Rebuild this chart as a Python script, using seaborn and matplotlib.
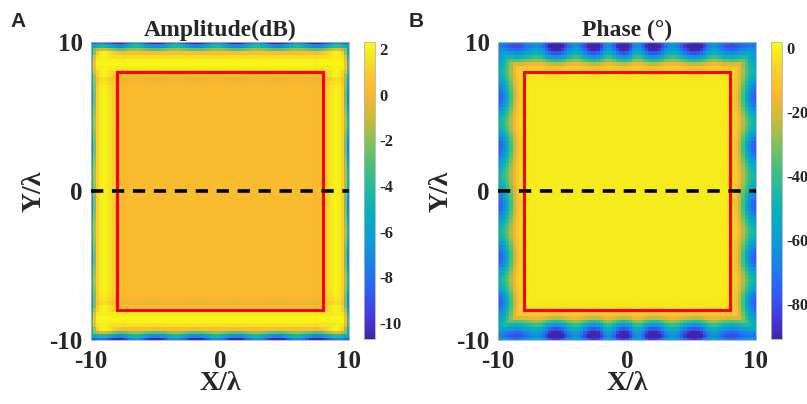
import numpy as np
import matplotlib
matplotlib.use("Agg")
import matplotlib.pyplot as plt
import seaborn as sns
from matplotlib.colors import LinearSegmentedColormap
from matplotlib.patches import Rectangle

# ---------------- data ----------------
grid = np.linspace(-10, 10, 81)          # X/lambda and Y/lambda sample positions
axis_ticks = [-10, 0, 10]
axis_tick_labels = ["-10", "0", "10"]

# amplitude (dB): profile from the edge inward (0.25 lambda steps, edge -> 7 lambda)
amp_edge_x = [-5.8, -1.8, 1.0, 1.8, 2.0, 1.8, 1.4, 1.0, 0.6, 0.2, 0.0, 0.1, 0.2]
amp_edge_y = [-8.7, -5.5, -2.2, 0.3, 1.5, 2.0, 2.1, 1.8, 1.1, 0.2, -0.3, -0.1, 0.1]
amp_inner = 0.2
amp_range = (-10.7, 2.3)
amp_cticks = [2, 0, -2, -4, -6, -8, -10]

# phase (deg)
ph_edge_x = [-60, -57, -51, -41, -30, -19, -11, -6, -3.5, -2.5, -2, -2, -2]
ph_edge_y = [-66, -78, -72, -62, -49, -34, -19, -10, -5, -3, -2.5, -2, -2]
ph_inner = -2
ph_range = (-91, 1.9)
ph_cticks = [0, -20, -40, -60, -80]

# relative ripple of the edge fall-off along each edge (x along top/bottom, y along sides)
ripple_top_amp = [0.0, 0.02, 0.05, 0.09, 0.14, 0.19, 0.24, 0.28, 0.30,
                  0.27, 0.19, 0.06, -0.07, -0.16, -0.2,
                  -0.16, -0.07, 0.06, 0.19, 0.27, 0.3,
                  0.27, 0.19, 0.06, -0.07, -0.16, -0.2,
                  -0.18, -0.11, -0.01, 0.11, 0.21, 0.28, 0.3,
                  0.27, 0.19, 0.06, -0.07, -0.16, -0.2,
                  -0.16, -0.07, 0.06, 0.19, 0.27, 0.3,
                  0.27, 0.19, 0.06, -0.07, -0.16, -0.2,
                  -0.18, -0.11, -0.01, 0.11, 0.21, 0.28, 0.3,
                  0.27, 0.19, 0.06, -0.07, -0.16, -0.2,
                  -0.16, -0.07, 0.06, 0.19, 0.27, 0.3,
                  0.28, 0.24, 0.19, 0.14, 0.09, 0.05, 0.02, 0.0, 0.0, 0.0]
ripple_top_ph = [-0.1, -0.1, -0.08, -0.04, 0.0, 0.03, 0.04,
                 0.02, -0.03, -0.09, -0.14, -0.18, -0.2,
                 -0.16, -0.07, 0.06, 0.19, 0.27, 0.3,
                 0.27, 0.19, 0.06, -0.07, -0.16, -0.2,
                 -0.16, -0.07, 0.06, 0.19, 0.27, 0.3,
                 0.24, 0.08, -0.1, -0.18,
                 -0.15, -0.02, 0.14, 0.25, 0.3,
                 0.24, 0.08, -0.1, -0.18,
                 -0.15, -0.02, 0.14, 0.25, 0.3,
                 0.27, 0.19, 0.06, -0.07, -0.16, -0.2,
                 -0.18, -0.11, -0.01, 0.11, 0.21, 0.28, 0.3,
                 0.27, 0.19, 0.06, -0.07, -0.16, -0.2,
                 -0.16, -0.09, -0.02, 0.02, 0.04, 0.04,
                 0.02, -0.02, -0.06, -0.09, -0.1, -0.1, -0.1]
ripple_side = [0.0, 0.0, 0.02, 0.04, 0.02, -0.03, -0.09, -0.14, -0.16, -0.12, -0.04,
               0.06, 0.15, 0.22, 0.27, 0.3,
               0.27, 0.19, 0.08, -0.04, -0.13, -0.19, -0.2,
               -0.16, -0.07, 0.06, 0.19, 0.27, 0.3,
               0.28, 0.22, 0.13, 0.03, -0.07, -0.14, -0.19, -0.2,
               -0.18, -0.13, -0.05, 0.05, 0.15, 0.23, 0.28, 0.3,
               0.27, 0.2, 0.1, -0.01, -0.11, -0.18, -0.2,
               -0.17, -0.09, 0.02, 0.13, 0.22, 0.28, 0.3,
               0.27, 0.19, 0.06, -0.07, -0.16, -0.2,
               -0.16, -0.07, 0.06, 0.19, 0.27, 0.3,
               0.26, 0.18, 0.08, -0.02, -0.09, -0.12, -0.09, -0.04, -0.01, 0.0]

box = (-8, 8)      # red rectangle (lambda)
dash_y = 0         # dashed cut line

# parula-like colour map sampled from the colour bars
parula_pts = [(0.00, (62, 38, 168)), (0.08, (70, 60, 225)), (0.16, (45, 95, 245)),
              (0.25, (25, 130, 230)), (0.33, (15, 155, 215)), (0.42, (5, 175, 190)),
              (0.50, (30, 185, 160)), (0.58, (70, 192, 125)), (0.66, (130, 193, 90)),
              (0.74, (200, 188, 55)), (0.82, (250, 182, 48)), (0.90, (250, 205, 45)),
              (0.95, (245, 230, 30)), (1.00, (249, 251, 20))]
cmap = LinearSegmentedColormap.from_list(
    "parula_like", [(t, tuple(c / 255 for c in rgb)) for t, rgb in parula_pts])


def full_profile(edge, inner):
    edge = np.asarray(edge, float)
    return np.concatenate([edge, np.full(len(grid) - 2 * len(edge), inner), edge[::-1]])


def build_field(edge_x, edge_y, inner, rip_top, rip_side):
    dx = full_profile(edge_x, inner)[None, :] - inner
    dy = full_profile(edge_y, inner)[:, None] - inner
    rt = np.asarray(rip_top)[None, :]
    rs = np.asarray(rip_side)[:, None]
    dxn = np.minimum(dx, 0) * (1 + rs)
    dyn = np.minimum(dy, 0) * (1 + rt)
    pos = np.maximum(np.maximum(dx, 0), np.maximum(dy, 0))
    return inner + pos + np.minimum(dxn, dyn)


amp = build_field(amp_edge_x, amp_edge_y, amp_inner, ripple_top_amp, ripple_side)
phase = build_field(ph_edge_x, ph_edge_y, ph_inner, ripple_top_ph, ripple_side)

# ---------------- drawing ----------------
sns.set_style("white")
plt.rcParams['font.family'] = ['Liberation Serif', 'DejaVu Serif']

W, H = 807, 404
fig = plt.figure(figsize=(W / 100, H / 100), dpi=100)


def fr(x0, y0, x1, y1):
    return [x0 / W, 1 - y1 / H, (x1 - x0) / W, (y1 - y0) / H]


step = grid[1] - grid[0]


def cx(v):
    return (v - grid[0]) / step + 0.5


def cy(v):
    return (grid[-1] - v) / step + 0.5


def draw(ax, cax, Z, vrange, cticks, title, letter, letter_x):
    sns.heatmap(Z, ax=ax, cbar_ax=cax, cmap=cmap, vmin=vrange[0], vmax=vrange[1],
                xticklabels=False, yticklabels=False, linewidths=0, rasterized=True)
    ax.set_xlim(cx(-10), cx(10))
    ax.set_ylim(cy(-10), cy(10))
    ax.set_xticks([cx(t) for t in axis_ticks])
    ax.set_xticklabels(axis_tick_labels, fontsize=18, fontweight='bold')
    ax.set_yticks([cy(t) for t in axis_ticks])
    ax.set_yticklabels(axis_tick_labels, fontsize=18, fontweight='bold', rotation=0)
    ax.tick_params(axis='x', direction='in', length=3, width=0.6, color='0.5', pad=7,
                   bottom=True)
    ax.tick_params(axis='y', direction='in', length=3, width=0.6, color='0.5', pad=6,
                   left=True)
    for sp in ax.spines.values():
        sp.set_visible(True)
        sp.set_color('0.7')
        sp.set_linewidth(0.6)
    ax.set_xlabel('X/λ', fontsize=20, fontweight='bold', labelpad=-1)
    ax.set_ylabel('Y/λ', fontsize=20, fontweight='bold', labelpad=2)
    ax.set_title(title, fontsize=17, fontweight='bold', pad=4)

    ax.add_patch(Rectangle((cx(box[0]), cy(box[1])), cx(box[1]) - cx(box[0]),
                           cy(box[0]) - cy(box[1]), fill=False, edgecolor='#ff0000',
                           linewidth=2.2, zorder=3))
    ax.plot([cx(-10), cx(10)], [cy(dash_y), cy(dash_y)], color='black', linewidth=2.6,
            linestyle=(0, (3.4, 2.4)), zorder=4)

    cbar = ax.collections[0].colorbar
    cbar.set_ticks(cticks)
    cbar.set_ticklabels([str(t) for t in cticks])
    cbar.ax.tick_params(labelsize=12, direction='in', length=3, width=0.6, color='0.5',
                        pad=3, right=True)
    for lab in cbar.ax.get_yticklabels():
        lab.set_fontweight('bold')
    cbar.outline.set_visible(True)
    cbar.outline.set_edgecolor('0.7')
    cbar.outline.set_linewidth(0.6)

    fig.text(letter_x / W, 1 - 27 / H, letter, family=['Liberation Sans', 'DejaVu Sans'],
             fontsize=15, fontweight='bold', va='baseline', ha='left')


axA = fig.add_axes(fr(91, 42, 349, 340))
caxA = fig.add_axes(fr(364, 42, 375, 339))
axB = fig.add_axes(fr(498, 42, 756, 340))
caxB = fig.add_axes(fr(771, 42, 782, 339))

draw(axA, caxA, amp, amp_range, amp_cticks, 'Amplitude(dB)', 'A', 10)
draw(axB, caxB, phase, ph_range, ph_cticks, 'Phase (°)', 'B', 409)

fig.savefig('out.png', dpi=100)
